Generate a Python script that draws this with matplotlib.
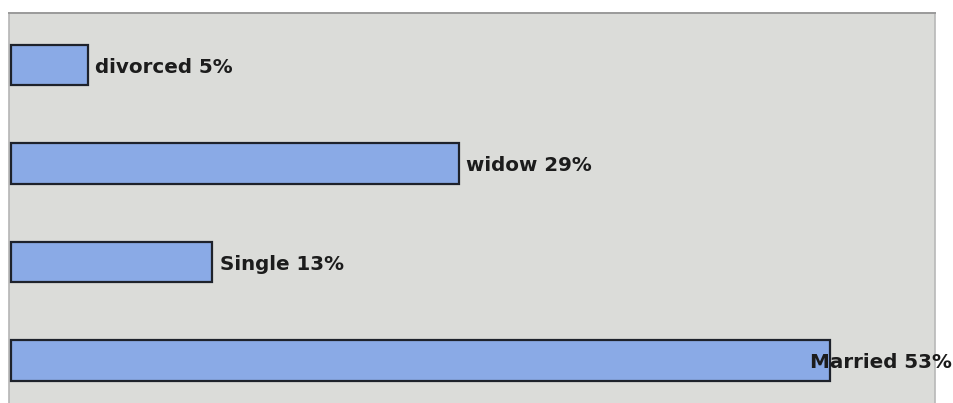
import matplotlib
matplotlib.use("Agg")
import matplotlib.pyplot as plt

# Marital status shares (%)
categories = ["divorced", "widow", "Single", "Married"]
values = [5, 29, 13, 53]

BAR_COLOR = "#8aaae6"
EDGE_COLOR = "#1e222b"
PANEL_COLOR = "#dbdcd9"
TEXT_COLOR = "#1c1c1c"

W, H, DPI = 954, 403, 100
fig = plt.figure(figsize=(W / DPI, H / DPI), dpi=DPI)
fig.patch.set_facecolor("white")

# panel geometry in pixels
left_px, right_px, top_px = 9, 935, 13
ax = fig.add_axes([left_px / W, 0, (right_px - left_px) / W, (H - top_px) / H])
ax.set_facecolor(PANEL_COLOR)

px_per_pct = 819 / 53.0
xmin = -(11 - left_px) / px_per_pct
ax.set_xlim(xmin, xmin + (right_px - left_px) / px_per_pct)

row_px = 98.5
ax.set_ylim((H - 65) / row_px, -(65 - top_px) / row_px)

ypos = list(range(len(categories)))
ax.barh(ypos, values, height=0.41, color=BAR_COLOR, edgecolor=EDGE_COLOR,
        linewidth=1.6, zorder=3)

# label offsets (points) to the right of each bar end
label_dx = [5, 5, 5.5, -14.5]
for y, cat, v, dx in zip(ypos, categories, values, label_dx):
    ax.annotate(f"{cat} {v}%", xy=(v, y), xytext=(dx, -1.5),
                textcoords="offset points", ha="left", va="center",
                fontsize=14.3, fontweight="bold", family="DejaVu Sans",
                color=TEXT_COLOR, zorder=5, annotation_clip=False)

ax.set_xticks([])
ax.set_yticks([])
for side, col, lw in [("top", "#9a9a9a", 1.4), ("left", "#b5b5b5", 1.2),
                      ("right", "#b8b8b8", 1.2)]:
    ax.spines[side].set_color(col)
    ax.spines[side].set_linewidth(lw)
ax.spines["bottom"].set_visible(False)

fig.savefig("out.png", dpi=DPI, facecolor=fig.get_facecolor())
